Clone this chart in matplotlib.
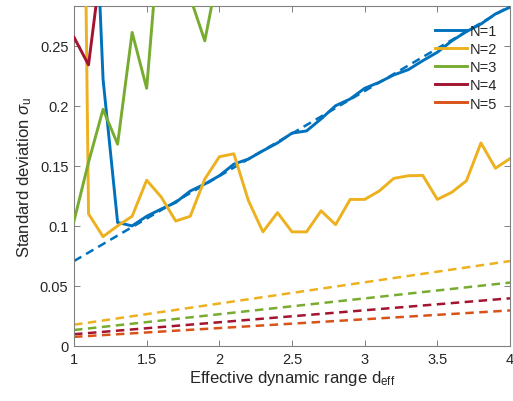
import matplotlib
matplotlib.use("Agg")
import matplotlib.pyplot as plt

# effective dynamic range grid
d_eff = [1.0, 1.1, 1.2, 1.3, 1.4, 1.5, 1.6, 1.7, 1.8, 1.9, 2.0,
         2.1, 2.2, 2.3, 2.4, 2.5, 2.6, 2.7, 2.8, 2.9, 3.0,
         3.1, 3.2, 3.3, 3.4, 3.5, 3.6, 3.7, 3.8, 3.9, 4.0]

# simulated standard deviation (solid lines), values above 0.283 are off-chart
sim_n1 = [0.90, 0.51, 0.222, 0.1028, 0.100, 0.108, 0.114, 0.1195, 0.129, 0.1348, 0.1417,
          0.1514, 0.1556, 0.1625, 0.169, 0.1772, 0.179, 0.189, 0.200, 0.2056, 0.2145,
          0.2195, 0.2256, 0.230, 0.2375, 0.2445, 0.254, 0.2617, 0.268, 0.2764, 0.282]
sim_n2 = [1.13, 0.110, 0.091, 0.1, 0.108, 0.138, 0.124, 0.104, 0.108, 0.139, 0.1575,
          0.160, 0.121, 0.095, 0.111, 0.095, 0.095, 0.1125, 0.101, 0.122, 0.122,
          0.129, 0.1395, 0.1417, 0.142, 0.122, 0.128, 0.1375, 0.169, 0.148, 0.156]
sim_n3 = [0.104, 0.153, 0.197, 0.168, 0.261, 0.2145, 0.36, 0.42, 0.29, 0.254, 0.316,
          0.40, 0.38, 0.45, 0.42, 0.48, 0.44, 0.50, 0.46, 0.52, 0.49,
          0.55, 0.51, 0.57, 0.53, 0.58, 0.56, 0.60, 0.58, 0.62, 0.61]
sim_n4 = [0.257, 0.234, 0.33, 0.45, 0.52, 0.48, 0.60, 0.55, 0.65, 0.62, 0.70,
          0.66, 0.74, 0.71, 0.78, 0.75, 0.82, 0.79, 0.86, 0.83, 0.90,
          0.87, 0.93, 0.90, 0.97, 0.94, 1.00, 0.98, 1.04, 1.01, 1.08]
sim_n5 = [0.60, 0.70, 0.65, 0.78, 0.72, 0.85, 0.80, 0.92, 0.88, 0.98, 0.95,
          1.02, 1.00, 1.08, 1.05, 1.12, 1.10, 1.18, 1.15, 1.22, 1.20,
          1.28, 1.25, 1.32, 1.30, 1.38, 1.35, 1.42, 1.40, 1.46, 1.45]

# theoretical prediction (dashed lines) at the ends of the range
theory_x = [1.0, 4.0]
theory_n1 = [0.0707, 0.283]
theory_n2 = [0.0177, 0.0707]
theory_n3 = [0.0133, 0.0528]
theory_n4 = [0.0098, 0.0397]
theory_n5 = [0.0076, 0.0296]

labels = ['N=1', 'N=2', 'N=3', 'N=4', 'N=5']
colors = ['#0072BD', '#EDB120', '#77AC30', '#A2142F', '#D95319']

sims = [sim_n1, sim_n2, sim_n3, sim_n4, sim_n5]
theories = [theory_n1, theory_n2, theory_n3, theory_n4, theory_n5]

plt.rcParams['font.family'] = ['Liberation Sans', 'DejaVu Sans']
plt.rcParams['mathtext.fontset'] = 'custom'
plt.rcParams['mathtext.rm'] = 'Liberation Sans'
plt.rcParams['mathtext.it'] = 'Liberation Sans:italic'

text_grey = '#262626'
box_grey = '#808080'

fig = plt.figure(figsize=(5.13, 4.02), dpi=100)
ax = fig.add_axes([74 / 513, 1 - 347 / 402, 436 / 513, 340 / 402])

handles = []
for sim, th, lab, col in zip(sims, theories, labels, colors):
    h, = ax.plot(d_eff, sim, color=col, linewidth=2.1, label=lab, zorder=3)
    ax.plot(theory_x, th, color=col, linewidth=1.8, linestyle=(0, (3.4, 2.2)), zorder=2)
    handles.append(h)

ax.set_xlim(1, 4)
ax.set_ylim(0, 0.283)
ax.set_xticks([1, 1.5, 2, 2.5, 3, 3.5, 4])
ax.set_xticklabels(['1', '1.5', '2', '2.5', '3', '3.5', '4'])
ax.set_yticks([0, 0.05, 0.1, 0.15, 0.2, 0.25])
ax.set_yticklabels(['0', '0.05', '0.1', '0.15', '0.2', '0.25'])

ax.tick_params(direction='in', length=4, width=0.7, color=box_grey, labelcolor=text_grey,
               labelsize=10.5, top=True, right=True, pad=4)
for sp in ax.spines.values():
    sp.set_color(box_grey)
    sp.set_linewidth(0.8)

ax.set_xlabel(r'Effective dynamic range d$_{\mathregular{eff}}$', fontsize=12, color=text_grey, labelpad=2)
ax.set_ylabel(r'Standard deviation $\sigma_{\mathregular{u}}$', fontsize=12, color=text_grey, labelpad=4)

leg = ax.legend(handles=handles, loc='upper right', frameon=False, fontsize=10.5,
                handlelength=2.2, handletextpad=0.15, labelspacing=0.28,
                borderaxespad=0.5, bbox_to_anchor=(1.0, 0.985))
for t in leg.get_texts():
    t.set_color(text_grey)

fig.savefig('out.png', dpi=100)
